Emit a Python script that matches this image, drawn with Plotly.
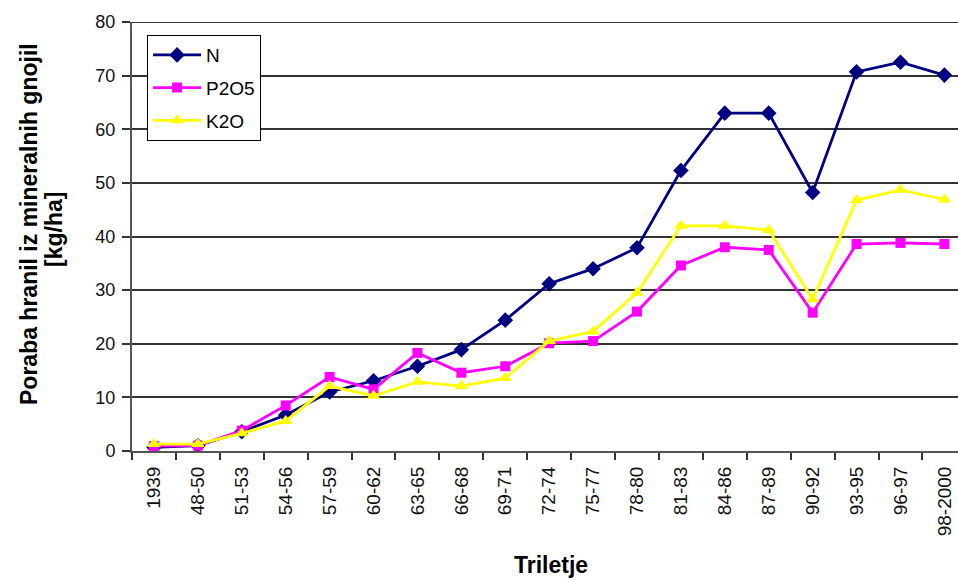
import plotly.graph_objects as go

categories = ["1939", "48-50", "51-53", "54-56", "57-59", "60-62", "63-65", "66-68",
              "69-71", "72-74", "75-77", "78-80", "81-83", "84-86", "87-89", "90-92",
              "93-95", "96-97", "98-2000"]
n_vals = [0.7, 1.0, 3.6, 6.7, 11.0, 13.1, 15.8, 18.9, 24.4, 31.2, 34.0, 37.9, 52.3,
          63.0, 63.0, 48.2, 70.7, 72.5, 70.1]
p_vals = [0.9, 1.0, 3.8, 8.5, 13.8, 11.5, 18.3, 14.6, 15.8, 20.1, 20.5, 26.0, 34.6,
          38.0, 37.5, 25.8, 38.6, 38.8, 38.6]
k_vals = [1.3, 1.3, 3.3, 5.6, 12.1, 10.3, 12.9, 12.1, 13.6, 20.5, 22.3, 29.5, 42.0,
          42.0, 41.2, 28.3, 46.8, 48.7, 46.9]
y_title_lines = ["Poraba hranil iz mineralnih gnojil", "[kg/ha]"]
x_title = "Triletje"

FONT = "Liberation Sans, Arial, sans-serif"

fig = go.Figure()
fig.add_trace(go.Scatter(x=categories, y=n_vals, name="N", mode="lines+markers",
                         legendgroup="a",
                         line=dict(color="#000080", width=2.8),
                         marker=dict(symbol="diamond", size=12, color="#000080")))
fig.add_trace(go.Scatter(x=categories, y=p_vals, name="P2O5", mode="lines+markers",
                         legendgroup="b",
                         line=dict(color="#FF00FF", width=2.8),
                         marker=dict(symbol="square", size=10, color="#FF00FF")))
fig.add_trace(go.Scatter(x=categories, y=k_vals, name="K2O", mode="lines+markers",
                         legendgroup="c",
                         line=dict(color="#FFFF00", width=2.8),
                         marker=dict(symbol="triangle-up", size=12, color="#FFFF00")))

fig.update_layout(
    width=958, height=580,
    margin=dict(l=132, r=0, t=22, b=129),
    paper_bgcolor="white", plot_bgcolor="white",
    font=dict(family=FONT, color="black"),
    showlegend=True,
    legend=dict(x=0.018, y=0.97, xanchor="left", yanchor="top",
                bgcolor="white", bordercolor="black", borderwidth=1.2,
                font=dict(size=19), traceorder="grouped", tracegroupgap=5,
                itemwidth=48),
)
fig.update_xaxes(
    type="category", range=[-0.5, 18.31],
    tickangle=-90, tickfont=dict(size=19, color="#111111"),
    showgrid=False, showline=True, linecolor="#555555", linewidth=2,
    ticks="outside", ticklen=7, tickwidth=1.5, tickcolor="#333333",
    tickson="boundaries", ticklabelstandoff=6,
    title=dict(text=""),
)
fig.update_yaxes(
    range=[0, 80], dtick=10, tickfont=dict(size=18, color="#111111"),
    showgrid=True, gridcolor="#333333", gridwidth=1.8,
    showline=True, linecolor="#555555", linewidth=2,
    ticks="outside", ticklen=8, tickwidth=1.5, tickcolor="#333333",
    ticklabelstandoff=3,
    zeroline=False,
    title=dict(text=""),
)
# top gridline at the range end
fig.add_shape(type="line", xref="paper", yref="y", x0=0, x1=1, y0=80, y1=80,
              line=dict(color="#333333", width=1.8), layer="below")

# axis titles
fig.add_annotation(text="<b>%s</b>" % y_title_lines[0], xref="paper", yref="paper",
                   x=0, y=(451 - 224) / 429, xshift=-103, xanchor="center",
                   yanchor="middle", textangle=-90, showarrow=False,
                   font=dict(size=23, family=FONT))
fig.add_annotation(text="<b>%s</b>" % y_title_lines[1], xref="paper", yref="paper",
                   x=0, y=(451 - 230) / 429, xshift=-78, xanchor="center",
                   yanchor="middle", textangle=-90, showarrow=False,
                   font=dict(size=23, family=FONT))
fig.add_annotation(text="<b>%s</b>" % x_title, xref="paper", yref="paper",
                   x=(551 - 132) / 826, y=0, yshift=-114, xanchor="center",
                   yanchor="middle", showarrow=False,
                   font=dict(size=23, family=FONT))

fig.write_html("out.html")
